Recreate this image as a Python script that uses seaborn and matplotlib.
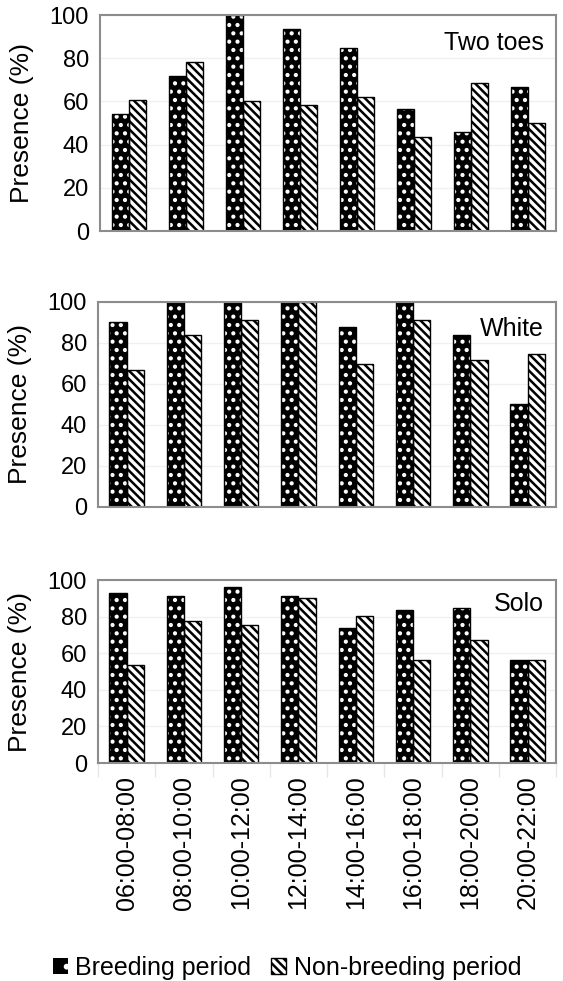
# Presence per two-hour slot, three individuals, breeding vs non-breeding.

import pandas as pd
import numpy as np
import seaborn as sns
import matplotlib.pyplot as plt
from matplotlib.patches import Patch, Rectangle

sns.set_style('white')
plt.rcParams['font.family'] = ['Liberation Sans', 'DejaVu Sans']
plt.rcParams['hatch.linewidth'] = 1.8
plt.rcParams['text.color'] = 'black'
plt.rcParams['axes.labelcolor'] = 'black'
plt.rcParams['xtick.color'] = 'black'
plt.rcParams['ytick.color'] = 'black'

times = ['06:00-08:00', '08:00-10:00', '10:00-12:00', '12:00-14:00',
         '14:00-16:00', '16:00-18:00', '18:00-20:00', '20:00-22:00']
periods = ['Breeding period', 'Non-breeding period']
panel_names = ['Two toes', 'White', 'Solo']

two_toes_breeding = [54.3, 71.6, 100, 93.3, 84.5, 56.4, 46.0, 66.5]
two_toes_nonbreeding = [60.8, 78.1, 60.0, 58.4, 62.0, 43.4, 68.7, 49.8]
white_breeding = [90.3, 100, 100, 100, 87.9, 100, 83.8, 50.3]
white_nonbreeding = [66.7, 83.8, 91.1, 100, 69.9, 91.1, 71.5, 74.8]
solo_breeding = [93.2, 91.4, 96.0, 91.4, 73.9, 83.9, 85.0, 56.5]
solo_nonbreeding = [53.6, 77.5, 75.7, 90.3, 80.3, 56.5, 67.5, 56.5]

series = {
    'Two toes': (two_toes_breeding, two_toes_nonbreeding),
    'White': (white_breeding, white_nonbreeding),
    'Solo': (solo_breeding, solo_nonbreeding),
}

# axes boxes [left, bottom, width, height] in figure fractions
boxes = [[0.178, 0.7645, 0.81, 0.2202],
         [0.174, 0.4832, 0.814, 0.209],
         [0.174, 0.2222, 0.814, 0.1865]]

fig = plt.figure(figsize=(5.63, 9.81), dpi=100)
palette = {'Breeding period': 'black', 'Non-breeding period': 'white'}

for k, name in enumerate(panel_names):
    ax = fig.add_axes(boxes[k])
    b, nb = series[name]
    df = pd.DataFrame({
        'time': times * 2,
        'period': [periods[0]] * len(times) + [periods[1]] * len(times),
        'value': list(b) + list(nb),
    })
    sns.barplot(data=df, x='time', y='value', hue='period', palette=palette,
                width=0.6, gap=0, edgecolor='black', linewidth=1,
                legend=False, ax=ax)
    # breeding bars: white dots on black, then a black outline on top
    for p in ax.containers[0]:
        p.set_edgecolor('white')
        p.set_hatch('..')
        p.set_linewidth(0)
        ax.add_patch(Rectangle(p.get_xy(), p.get_width(), p.get_height(),
                               fill=False, edgecolor='black', linewidth=1, zorder=p.get_zorder() + 0.1))
    for p in ax.containers[1]:
        p.set_hatch('\\\\\\\\')

    ax.set_ylim(0, 100)
    ax.set_yticks([0, 20, 40, 60, 80, 100])
    ax.set_xlim(-0.5, len(times) - 0.5)
    ax.yaxis.grid(True, color='#f0f0f0', linewidth=1)
    ax.set_axisbelow(True)
    for s in ax.spines.values():
        s.set_color('#8c8c8c')
        s.set_linewidth(1.5)
    ax.tick_params(axis='y', length=0, pad=8, labelsize=17)
    ax.set_xlabel('')
    ax.set_ylabel('Presence (%)', fontsize=19)
    ax.yaxis.set_label_coords(-0.145, 0.5)
    ax.text(0.972, 0.87, name, transform=ax.transAxes, ha='right', va='center', fontsize=18)
    if k < 2:
        ax.tick_params(axis='x', length=0, labelbottom=False)
    else:
        ax.tick_params(axis='x', length=0, pad=9, labelsize=18, rotation=90)
        ax.set_xticks(np.arange(-0.5, len(times)), minor=True)
        ax.tick_params(axis='x', which='minor', length=10, width=1, color='#e6e6e6', bottom=True)

handles = [Patch(facecolor='black', edgecolor='white', hatch='.', linewidth=0),
           Patch(facecolor='white', edgecolor='black', hatch='\\\\\\\\', linewidth=1)]
fig.legend(handles, periods, loc='lower center', bbox_to_anchor=(0.51, -0.022), ncol=2,
           frameon=False, fontsize=18, handlelength=0.6, handleheight=0.6,
           handletextpad=0.3, columnspacing=0.8)

fig.savefig('out.png', dpi=100)
